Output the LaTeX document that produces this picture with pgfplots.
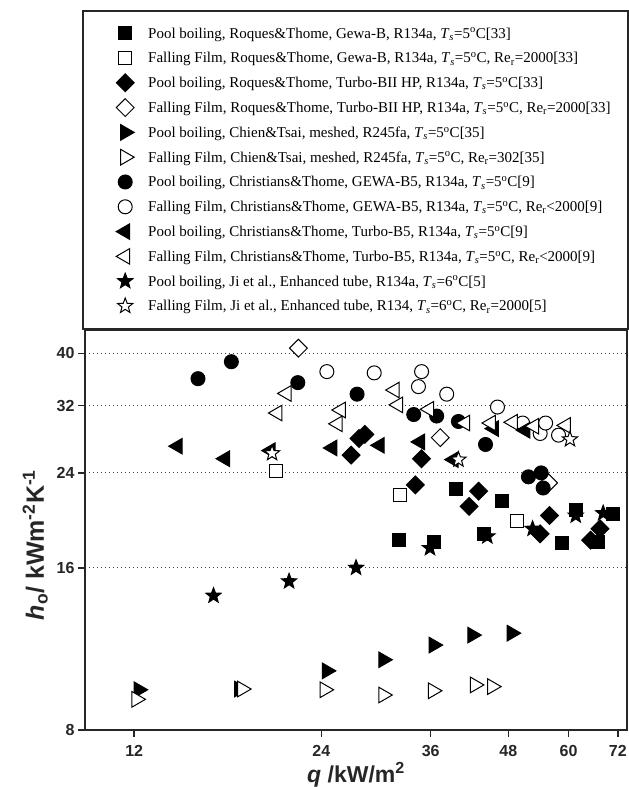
\documentclass[border=0pt]{standalone}
\usepackage{fontspec}
\setmainfont{Liberation Serif}
\setsansfont{Liberation Sans}
\usepackage{pgfplots}
\pgfplotsset{compat=1.18}
\usetikzlibrary{plotmarks}

\pgfdeclareplotmark{mystar}{%
  \pgfpathmoveto{\pgfpointpolar{90}{\pgfplotmarksize}}%
  \pgfpathlineto{\pgfpointpolar{126}{0.42\pgfplotmarksize}}%
  \pgfpathlineto{\pgfpointpolar{162}{\pgfplotmarksize}}%
  \pgfpathlineto{\pgfpointpolar{198}{0.42\pgfplotmarksize}}%
  \pgfpathlineto{\pgfpointpolar{234}{\pgfplotmarksize}}%
  \pgfpathlineto{\pgfpointpolar{270}{0.42\pgfplotmarksize}}%
  \pgfpathlineto{\pgfpointpolar{306}{\pgfplotmarksize}}%
  \pgfpathlineto{\pgfpointpolar{342}{0.42\pgfplotmarksize}}%
  \pgfpathlineto{\pgfpointpolar{18}{\pgfplotmarksize}}%
  \pgfpathlineto{\pgfpointpolar{54}{0.42\pgfplotmarksize}}%
  \pgfpathclose
  \pgfusepathqfillstroke
}

\newcommand{\Ts}{\textit{T}\textsubscript{\textit{s}}}
\newcommand{\dg}{\textsuperscript{o}}
\newcommand{\Rer}{Re\textsubscript{r}}

\pgfplotsset{
  myleg/.style={legend image code/.code={\path[draw=none,fill=none] (-9pt,-12pt) rectangle (9pt,12pt); \draw[##1] plot coordinates {(0pt,0pt)};}},
  fsq/.style={only marks, mark=square*, mark size=6.5pt, mark options={draw=black, fill=black, line width=1pt}, myleg},
  osq/.style={only marks, mark=square*, mark size=6.5pt, mark options={draw=black, fill=white, line width=1pt}, myleg},
  fdi/.style={only marks, mark=square*, mark size=6.3pt, mark options={rotate=45, draw=black, fill=black, line width=1pt}, myleg},
  odi/.style={only marks, mark=square*, mark size=6.3pt, mark options={rotate=45, draw=black, fill=white, line width=1pt}, myleg},
  ftr/.style={only marks, mark=triangle*, mark size=9pt, mark options={rotate=-90, draw=black, fill=black, line width=1pt}, myleg},
  otr/.style={only marks, mark=triangle*, mark size=9pt, mark options={rotate=-90, draw=black, fill=white, line width=1pt}, myleg},
  fci/.style={only marks, mark=*, mark size=7pt, mark options={draw=black, fill=black, line width=1pt}, myleg},
  oci/.style={only marks, mark=*, mark size=7pt, mark options={draw=black, fill=white, line width=1pt}, myleg},
  ftl/.style={only marks, mark=triangle*, mark size=9pt, mark options={rotate=90, draw=black, fill=black, line width=1pt}, myleg},
  otl/.style={only marks, mark=triangle*, mark size=9pt, mark options={rotate=90, draw=black, fill=white, line width=1pt}, myleg},
  fst/.style={only marks, mark=mystar, mark size=8pt, mark options={draw=black, fill=black, line width=1pt}, myleg},
  ost/.style={only marks, mark=mystar, mark size=8pt, mark options={draw=black, fill=white, line width=1pt}, myleg},
}

\begin{document}
\begin{tikzpicture}
\useasboundingbox (-85pt,-57pt) rectangle (544pt,730pt);
\begin{axis}[
  at={(0pt,0pt)}, anchor=south west,
  scale only axis, width=542pt, height=400pt,
  xmode=log, ymode=log,
  xmin=10, xmax=74.5, ymin=8, ymax=44.2,
  xtick={12,24,36,48,60,72}, xticklabels={12,24,36,48,60,72},
  ytick={8,16,24,32,40}, yticklabels={8,16,24,32,40},
  minor xtick={}, minor ytick={},
  xtick pos=left, ytick pos=left,
  tick align=outside,
  major tick length=7pt,
  tick style={line width=1.5pt, black!85},
  axis line style={line width=2pt, black!85},
  ymajorgrids,
  grid style={line width=0.9pt, black!75, dash pattern=on 1pt off 3pt},
  ticklabel style={font=\sffamily\bfseries\fontsize{16}{16}\selectfont, black!85},
  xticklabel style={yshift=-5pt},
  xlabel={\textit{q} /kW/m\textsuperscript{2}},
  ylabel={\textit{h}\textsubscript{o}/ kWm\textsuperscript{-2}K\textsuperscript{-1}},
  label style={font=\sffamily\bfseries\fontsize{23}{23}\selectfont, black!85},
  xlabel style={at={(axis description cs:0.5,-0.1125)}, anchor=center},
  ylabel style={at={(axis description cs:-0.092,0.4625)}, anchor=center, font=\sffamily\bfseries\fontsize{25}{25}\selectfont},
  clip=false,
  legend cell align=left,
  legend style={at={(0,1)}, anchor=north west, xshift=31pt, yshift=309pt,
    draw=none, fill=none, inner sep=0pt, row sep=0.8pt,
    font=\fontsize{15}{18}\selectfont,
    nodes={inner sep=0pt, text height=11pt, text depth=1pt},
    /tikz/every odd column/.append style={column sep=14pt}},
]
\draw[line width=1.2pt, black!85] ([xshift=-2pt,yshift=1pt]axis description cs:0,1) rectangle ([xshift=1pt,yshift=319pt]axis description cs:1,1);

\addplot[fsq] coordinates {(32.0,18.0) (36.5,17.9) (39.5,22.4) (43.9,18.5) (46.8,21.3) (58.5,17.8) (61.6,20.5) (67.0,17.9) (70.8,20.1)};
\addlegendentry{Pool boiling, Roques\&Thome, Gewa-B, R134a, \Ts=5\dg C[33]}
\addplot[osq] coordinates {(20.3,24.2) (32.1,21.8) (49.6,19.5)};
\addlegendentry{Falling Film, Roques\&Thome, Gewa-B, R134a, \Ts=5\dg C, \Rer=2000[33]}
\addplot[fdi] coordinates {(26.8,25.9) (27.6,27.8) (28.2,28.3) (34.8,25.5) (34.0,22.8) (41.5,20.8) (43.0,22.2) (54.0,18.5) (55.9,20.0) (65.1,18.0) (67.4,18.9)};
\addlegendentry{Pool boiling, Roques\&Thome, Turbo-BII HP, R134a, \Ts=5\dg C[33]}
\addplot[odi] coordinates {(22.05,40.9) (37.3,27.9) (55.7,23.0)};
\addlegendentry{Falling Film, Roques\&Thome, Turbo-BII HP, R134a, \Ts=5\dg C, \Rer=2000[33]}
\addplot[ftr] coordinates {(12.2,9.5) (17.7,9.53) (24.5,10.3) (30.2,10.8) (36.4,11.5) (42.0,12.0) (48.6,12.1)};
\addlegendentry{Pool boiling, Chien\&Tsai, meshed, R245fa, \Ts=5\dg C[35]}
\addplot[otr] coordinates {(12.1,9.12) (17.9,9.53) (24.3,9.5) (30.2,9.29) (36.3,9.46) (42.4,9.7) (45.2,9.63)};
\addlegendentry{Falling Film, Chien\&Tsai, meshed, R245fa, \Ts=5\dg C, \Rer=302[35]}
\addplot[fci] coordinates {(15.2,35.9) (17.2,38.6) (22.0,35.3) (27.4,33.6) (33.8,30.8) (36.8,30.6) (39.9,29.9) (44.1,27.1) (51.7,23.6) (54.2,24.0) (54.6,22.5)};
\addlegendentry{Pool boiling, Christians\&Thome, GEWA-B5, R134a, \Ts=5\dg C[9]}
\addplot[oci] coordinates {(24.5,37.0) (29.2,36.8) (34.8,37.0) (34.4,34.7) (38.2,33.6) (46.1,31.8) (50.6,29.7) (54.0,28.4) (55.1,29.7) (57.8,28.2)};
\addlegendentry{Falling Film, Christians\&Thome, GEWA-B5, R134a, \Ts=5\dg C, \Rer<2000[9]}
\addplot[ftl] coordinates {(14.1,26.9) (16.8,25.5) (19.9,26.4) (25.0,26.7) (29.8,27.0) (34.6,27.4) (39.2,25.4) (45.5,29.0) (51.1,28.8)};
\addlegendentry{Pool boiling, Christians\&Thome, Turbo-B5, R134a, \Ts=5\dg C[9]}
\addplot[otl] coordinates {(21.1,33.7) (20.4,31.0) (25.8,31.4) (25.5,29.6) (31.5,34.2) (31.9,32.1) (35.8,31.5) (40.9,29.7) (45.0,29.7) (48.8,29.8) (52.8,29.3) (59.4,29.4)};
\addlegendentry{Falling Film, Christians\&Thome, Turbo-B5, R134a, \Ts=5\dg C, \Rer<2000[9]}
\addplot[fst] coordinates {(16.1,14.2) (21.3,15.1) (27.3,16.0) (35.9,17.4) (44.4,18.3) (52.5,18.9) (61.6,20.0) (68.2,20.2)};
\addlegendentry{Pool boiling, Ji et al., Enhanced tube, R134a, \Ts=6\dg C[5]}
\addplot[ost] coordinates {(20.0,26.1) (39.9,25.4) (60.3,27.7)};
\addlegendentry{Falling Film, Ji et al., Enhanced tube, R134, \Ts=6\dg C, \Rer=2000[5]}
\end{axis}
\end{tikzpicture}
\end{document}
